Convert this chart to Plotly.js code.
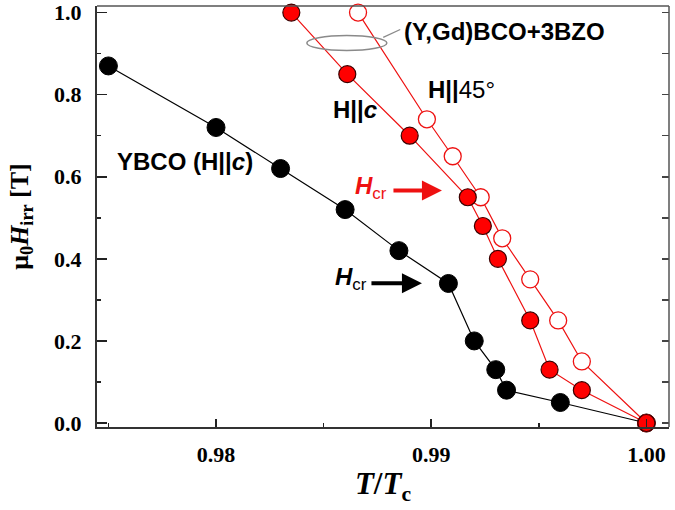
<!DOCTYPE html>
<html>
<head>
<meta charset="utf-8">
<script src="https://cdn.plot.ly/plotly-3.0.1.min.js"></script>
<style>html,body{margin:0;padding:0;background:#fff;}#chart{width:675px;height:510px;}</style>
</head>
<body>
<div id="chart"></div>
<script>
// YBCO, H || c
var ybcoT = [0.9750, 0.9800, 0.9830, 0.9860, 0.9885, 0.9908, 0.9920, 0.9930, 0.9935, 0.9960, 1.0000];
var ybcoH = [0.87, 0.72, 0.62, 0.52, 0.42, 0.34, 0.20, 0.13, 0.08, 0.05, 0.00];
// (Y,Gd)BCO+3BZO, H || c
var gdcT = [0.9835, 0.9861, 0.9890, 0.9917, 0.9924, 0.9931, 0.9946, 0.9955, 0.9970, 1.0000];
var gdcH = [1.00, 0.85, 0.70, 0.55, 0.48, 0.40, 0.25, 0.13, 0.08, 0.00];
// (Y,Gd)BCO+3BZO, H || 45°
var gd45T = [0.9866, 0.9898, 0.9910, 0.9923, 0.9933, 0.9946, 0.9959, 0.9970, 1.0000];
var gd45H = [1.00, 0.74, 0.65, 0.55, 0.45, 0.35, 0.25, 0.15, 0.00];

// tick values and labels
var xTickVals = [0.98, 0.99, 1.00];
var xTickText = ['0.98', '0.99', '1.00'];
var yTickVals = [0.0, 0.2, 0.4, 0.6, 0.8, 1.0];
var yTickText = ['0.0', '0.2', '0.4', '0.6', '0.8', '1.0'];

var xRange = [0.97447, 1.00105];
var yRange = [-0.0097, 1.0160];

var traces = [
  {x: ybcoT, y: ybcoH, type: 'scatter', mode: 'lines+markers', name: 'YBCO (H||c)',
   cliponaxis: false,
   line: {color: '#000', width: 1.2},
   marker: {symbol: 'circle', size: 18, color: '#000', line: {color: '#000', width: 1}}},
  {x: gd45T, y: gd45H, type: 'scatter', mode: 'lines+markers', name: 'H||45°',
   cliponaxis: false,
   line: {color: '#ee1111', width: 1.2},
   marker: {symbol: 'circle', size: 17, color: '#ffffff', line: {color: '#ee1111', width: 1.3}}},
  {x: gdcT, y: gdcH, type: 'scatter', mode: 'lines+markers', name: 'H||c',
   cliponaxis: false,
   line: {color: '#ee1111', width: 1.2},
   marker: {symbol: 'circle', size: 17, color: '#ff0000', line: {color: '#3a0000', width: 1.2}}},
  {x: [], y: [], yaxis: 'y2', type: 'scatter', showlegend: false, hoverinfo: 'skip'}
];

var sansFont = 'Liberation Sans, Arial, sans-serif';
var serifFont = 'Liberation Serif, Times New Roman, serif';

var layout = {
  width: 675, height: 510,
  margin: {l: 97, r: 6, t: 6, b: 83},
  paper_bgcolor: '#fff', plot_bgcolor: '#fff',
  showlegend: false,
  xaxis: {
    range: xRange, autorange: false,
    tickmode: 'array', tickvals: xTickVals, ticktext: xTickText,
    ticks: 'inside', ticklen: 8, tickwidth: 1.5, tickcolor: '#222',
    minor: {tickmode: 'linear', tick0: 0.975, dtick: 0.005, ticks: 'inside', ticklen: 4, tickwidth: 1.5, tickcolor: '#222'},
    showline: true, linecolor: '#333', linewidth: 2, mirror: false,
    showgrid: false, zeroline: false,
    ticklabelstandoff: 7, ticklabeloverflow: 'allow',
    tickfont: {family: serifFont, size: 22, color: '#000', weight: 'bold'},
    title: {text: '<i>T</i>/<i>T</i><sub>c</sub>', standoff: 6,
            font: {family: serifFont, size: 31, color: '#000', weight: 'bold'}}
  },
  yaxis: {
    range: yRange, autorange: false,
    tickmode: 'array', tickvals: yTickVals, ticktext: yTickText,
    ticks: 'inside', ticklen: 10, tickwidth: 1.5, tickcolor: '#222',
    minor: {tickmode: 'linear', tick0: 0, dtick: 0.1, ticks: 'inside', ticklen: 4, tickwidth: 1.5, tickcolor: '#222'},
    showline: true, linecolor: '#333', linewidth: 2, mirror: false,
    showgrid: false, zeroline: false,
    ticklabelstandoff: 9, ticklabeloverflow: 'allow',
    tickfont: {family: serifFont, size: 22, color: '#000', weight: 'bold'},
    title: {text: 'μ<sub>0</sub><i>H</i><sub>irr</sub> [T]', standoff: 18,
            font: {family: serifFont, size: 26, color: '#000', weight: 'bold'}}
  },
  yaxis2: {
    overlaying: 'y', side: 'right', range: yRange, autorange: false,
    tick0: 0, dtick: 0.1, ticks: 'inside', ticklen: 7, tickwidth: 1.5, tickcolor: '#444',
    showticklabels: false, showline: false, showgrid: false, zeroline: false
  },
  shapes: [
    {type: 'line', xref: 'paper', yref: 'paper', x0: 0, x1: 1, y0: 1, y1: 1,
     line: {color: '#555', width: 1.5}},
    {type: 'line', xref: 'paper', yref: 'paper', x0: 1, x1: 1, y0: 0, y1: 1,
     line: {color: '#555', width: 1.5}},
    {type: 'circle', xref: 'x', yref: 'y', x0: 0.98422, x1: 0.98794, y0: 0.9075, y1: 0.9440,
     line: {color: '#8a8a8a', width: 1.5}},
    {type: 'line', xref: 'x', yref: 'y', x0: 0.98777, x1: 0.98856, y0: 0.9395, y1: 0.9588,
     line: {color: '#8a8a8a', width: 1.3}}
  ],
  annotations: [
    {x: 0.97856, y: 0.6368, xref: 'x', yref: 'y', showarrow: false,
     text: '<b>YBCO (H||<i>c</i>)</b>', font: {family: sansFont, size: 24, color: '#000'}},
    {x: 0.98647, y: 0.765, xref: 'x', yref: 'y', showarrow: false,
     text: '<b>H||<i>c</i></b>', font: {family: sansFont, size: 24, color: '#000'}},
    {x: 0.99140, y: 0.8136, xref: 'x', yref: 'y', showarrow: false,
     text: '<b>H||</b>45°', font: {family: sansFont, size: 24, color: '#000'}},
    {x: 0.98865, y: 0.954, xref: 'x', yref: 'y', xanchor: 'left', showarrow: false,
     text: '<b>(Y,Gd)BCO+3BZO</b>', font: {family: sansFont, size: 24, color: '#000'}},
    {x: 0.98544, y: 0.352, xref: 'x', yref: 'y', xanchor: 'left', showarrow: false,
     text: '<b><i>H</i></b><sub>cr</sub>', font: {family: sansFont, size: 24, color: '#000'}},
    {x: 0.98637, y: 0.575, xref: 'x', yref: 'y', xanchor: 'left', showarrow: false,
     text: '<b><i>H</i></b><sub>cr</sub>', font: {family: sansFont, size: 24, color: '#ee1111'}},
    {x: 0.98957, y: 0.3407, xref: 'x', yref: 'y', ax: -52, ay: 0, text: '',
     showarrow: true, arrowhead: 2, arrowsize: 1, arrowwidth: 4, arrowcolor: '#000', standoff: 0},
    {x: 0.99050, y: 0.5666, xref: 'x', yref: 'y', ax: -50, ay: 0, text: '',
     showarrow: true, arrowhead: 2, arrowsize: 1, arrowwidth: 4, arrowcolor: '#ee1111', standoff: 0}
  ]
};

Plotly.newPlot('chart', traces, layout, {displayModeBar: false, staticPlot: true});
</script>
</body>
</html>
